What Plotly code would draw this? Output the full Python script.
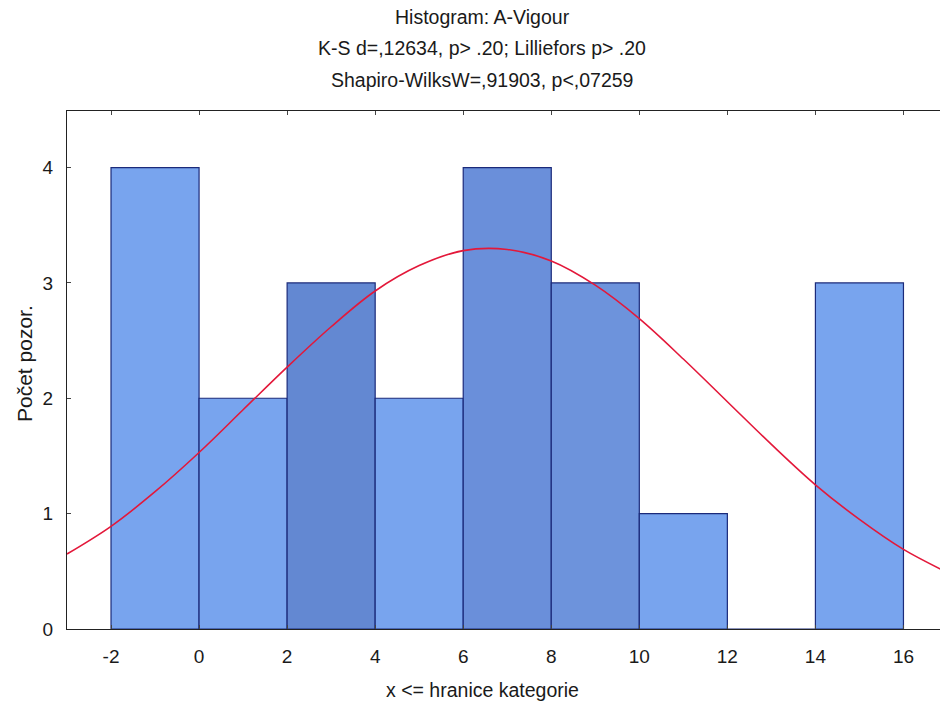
import plotly.graph_objects as go

# Histogram bins (upper boundaries "x <= hranice kategorie") and counts
bin_left = [-2, 0, 2, 4, 6, 8, 10, 12, 14]
bin_right = [0, 2, 4, 6, 8, 10, 12, 14, 16]
counts = [4, 2, 3, 2, 4, 3, 1, 0, 3]
# bars that look darker (halftone) in the reference
bar_colors = ["#78a4ee", "#78a4ee", "#6388d2", "#78a4ee", "#6a8fda",
              "#6d93dc", "#78a4ee", "#78a4ee", "#78a4ee"]

# Expected normal curve values
curve_x = [-3, -2, -1, 0, 1, 2, 3, 4, 5, 6, 7, 8, 9, 10, 11, 12, 13, 14, 15, 16, 17]
curve_y = [0.65, 0.89, 1.19, 1.53, 1.90, 2.27, 2.62, 2.93, 3.15, 3.28, 3.29,
           3.19, 2.98, 2.69, 2.34, 1.97, 1.60, 1.25, 0.95, 0.69, 0.49]

x_ticks = [-2, 0, 2, 4, 6, 8, 10, 12, 14, 16]
x_tick_labels = ["-2", "0", "2", "4", "6", "8", "10", "12", "14", "16"]
y_ticks = [0, 1, 2, 3, 4]

title_lines = ["Histogram: A-Vigour",
               "K-S d=,12634, p> .20; Lilliefors p> .20",
               "Shapiro-WilksW=,91903, p<,07259"]
x_title = "x <= hranice kategorie"
y_title = "Počet pozor."

W, H = 940, 709
L, R, T, B = 67, 0, 111, 80
pw, ph = W - L - R, H - T - B

centers = [(a + b) / 2 for a, b in zip(bin_left, bin_right)]
widths = [b - a for a, b in zip(bin_left, bin_right)]

fig = go.Figure()
fig.add_trace(go.Bar(
    x=centers, y=counts, width=widths,
    marker=dict(color=bar_colors, line=dict(color="#1b2a7a", width=1.2)),
    showlegend=False, hoverinfo="skip",
))
fig.add_trace(go.Scatter(
    x=curve_x, y=curve_y, mode="lines",
    line=dict(color="#e3183a", width=1.6, shape="spline"),
    showlegend=False, hoverinfo="skip",
))

font = "Liberation Sans, Arial, sans-serif"
txt_color = "#1a1a1a"

fig.update_layout(
    width=W, height=H,
    margin=dict(l=L, r=R, t=T, b=B, pad=0),
    plot_bgcolor="white", paper_bgcolor="white",
    bargap=0,
    font=dict(family=font, size=19, color=txt_color),
    xaxis=dict(range=[-3, 16.83], tickvals=x_ticks, ticktext=x_tick_labels,
               ticks="inside", ticklen=4,
               showgrid=False, zeroline=False, showline=True, linecolor="#222",
               linewidth=1, mirror="ticks", tickfont=dict(size=19),
               ticklabelstandoff=10),
    yaxis=dict(range=[0, 4.49], tickvals=y_ticks, ticks="inside", ticklen=4,
               showgrid=False, zeroline=False, showline=True, linecolor="#222",
               linewidth=1, mirror=False, tickfont=dict(size=19),
               ticklabelstandoff=9),
)

xc = (482 - L) / pw
ann = []
for ypix, txt in zip([17, 48, 80], title_lines):
    ann.append(dict(text=txt, xref="paper", yref="paper", x=xc,
                    y=1 + (T - ypix) / ph, xanchor="center", yanchor="middle",
                    showarrow=False, font=dict(size=19.5, family=font)))
ann.append(dict(text=x_title, xref="paper", yref="paper", x=xc,
                y=-(690 - (T + ph)) / ph, xanchor="center", yanchor="middle",
                showarrow=False, font=dict(size=19.5, family=font)))
ann.append(dict(text=y_title, xref="paper", yref="paper", x=-(L - 24) / pw,
                y=1 - (364 - T) / ph, xanchor="center", yanchor="middle",
                textangle=-90, showarrow=False, font=dict(size=21, family=font)))
fig.update_layout(annotations=ann)

fig.write_html("out.html", config={"displayModeBar": False, "staticPlot": True})
